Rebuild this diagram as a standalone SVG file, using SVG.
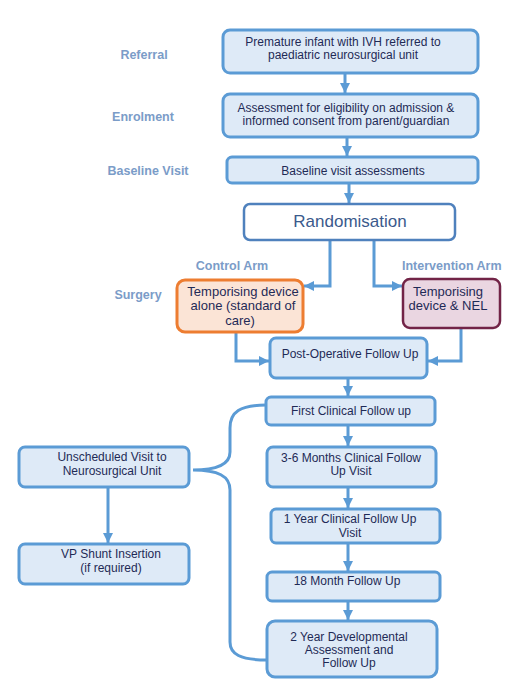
<svg xmlns="http://www.w3.org/2000/svg" width="519" height="693" viewBox="0 0 519 693">
<style>
.box{fill:#deeaf7;stroke:#5b9bd5;stroke-width:3}
.t{font-family:"Liberation Sans",Arial,sans-serif;font-size:12px;fill:#1f2a56;text-anchor:middle}
.lbl{font-family:"Liberation Sans",Arial,sans-serif;font-size:12.5px;font-weight:bold;fill:#7b9cc8;text-anchor:middle}
.c{fill:none;stroke:#5b9bd5;stroke-width:3}
</style>
<defs>
<marker id="ah" markerUnits="userSpaceOnUse" markerWidth="12" markerHeight="12" viewBox="0 0 12 12" refX="10" refY="6" orient="auto">
<path d="M0,1 L10,6 L0,11 Z" fill="#5b9bd5"/>
</marker>
</defs>
<rect width="519" height="693" fill="#ffffff"/>
<g id="labels">
<text class="lbl" x="144" y="59">Referral</text>
<text class="lbl" x="143" y="121">Enrolment</text>
<text class="lbl" x="148" y="175">Baseline Visit</text>
<text class="lbl" x="138" y="299">Surgery</text>
<text class="lbl" x="232" y="270">Control Arm</text>
<text class="lbl" x="402" y="270" style="text-anchor:start">Intervention Arm</text>
</g>
<g id="connectors">
<line class="c" x1="345" y1="73" x2="345" y2="93" marker-end="url(#ah)"/>
<line class="c" x1="347" y1="137" x2="347" y2="156" marker-end="url(#ah)"/>
<line class="c" x1="349" y1="183" x2="349" y2="203" marker-end="url(#ah)"/>
<polyline class="c" points="330,240 330,286 304,286" marker-end="url(#ah)"/>
<polyline class="c" points="374,240 374,286 402,286" marker-end="url(#ah)"/>
<polyline class="c" points="236,332 236,361 269,361" marker-end="url(#ah)"/>
<polyline class="c" points="461,328 461,361 428,361" marker-end="url(#ah)"/>
<line class="c" x1="348" y1="378" x2="348" y2="396" marker-end="url(#ah)"/>
<line class="c" x1="348" y1="425" x2="348" y2="446" marker-end="url(#ah)"/>
<line class="c" x1="348" y1="487" x2="348" y2="508" marker-end="url(#ah)"/>
<line class="c" x1="348" y1="543" x2="348" y2="571" marker-end="url(#ah)"/>
<line class="c" x1="348" y1="601" x2="348" y2="620" marker-end="url(#ah)"/>
<line class="c" x1="108" y1="487" x2="108" y2="543" marker-end="url(#ah)"/>
<path class="c" d="M266,405 C240,405 230,412 230,428 L230,452 C230,464 218,470 193,470 C218,470 230,476 230,490 L230,642 C230,654 240,660 267,660"/>
</g>
<g id="referral"><rect class="box" x="223" y="30" width="255" height="43" rx="7"/>
<text class="t" x="343" y="46">Premature infant with IVH referred to</text>
<text class="t" x="343" y="59">paediatric neurosurgical unit</text></g>
<g id="enrolment"><rect class="box" x="223" y="94" width="255" height="43" rx="7"/>
<text class="t" x="346" y="112">Assessment for eligibility on admission &amp;</text>
<text class="t" x="346" y="125">informed consent from parent/guardian</text></g>
<g id="baseline"><rect class="box" x="227" y="157" width="251" height="26" rx="5"/>
<text class="t" x="353" y="175">Baseline visit assessments</text></g>
<g id="randomisation"><rect x="244" y="204" width="211" height="36" rx="6" fill="#ffffff" stroke="#4f81bd" stroke-width="2.5"/>
<text class="t" x="350" y="227" style="font-size:17px;fill:#3b5a8c">Randomisation</text></g>
<g id="control"><rect x="177" y="280" width="126" height="52" rx="8" fill="#fbe4d6" stroke="#ed7d31" stroke-width="3"/>
<text class="t" x="243" y="296" style="font-size:13px">Temporising device</text>
<text class="t" x="243" y="310" style="font-size:13px">alone (standard of</text>
<text class="t" x="240" y="325" style="font-size:13px">care)</text></g>
<g id="intervention"><rect x="403" y="279" width="97" height="49" rx="7" fill="#ead6e1" stroke="#722447" stroke-width="2.5"/>
<text class="t" x="448" y="296" style="font-size:13px">Temporising</text>
<text class="t" x="448" y="310" style="font-size:13px">device &amp; NEL</text></g>
<g id="postop"><rect class="box" x="270" y="338" width="157" height="40" rx="6"/>
<text class="t" x="350" y="358">Post-Operative Follow Up</text></g>
<g id="first"><rect class="box" x="266" y="397" width="169" height="28" rx="5"/>
<text class="t" x="351" y="415">First Clinical Follow up</text></g>
<g id="m36"><rect class="box" x="267" y="447" width="169" height="40" rx="6"/>
<text class="t" x="351" y="462">3-6 Months Clinical Follow</text>
<text class="t" x="351" y="475">Up Visit</text></g>
<g id="y1"><rect class="box" x="271" y="509" width="169" height="34" rx="5"/>
<text class="t" x="350" y="523">1 Year Clinical Follow Up</text>
<text class="t" x="350" y="537">Visit</text></g>
<g id="m18"><rect class="box" x="267" y="572" width="173" height="29" rx="5"/>
<text class="t" x="347" y="585">18 Month Follow Up</text></g>
<g id="y2"><rect class="box" x="267" y="621" width="170" height="56" rx="8"/>
<text class="t" x="349" y="641">2 Year Developmental</text>
<text class="t" x="349" y="654">Assessment and</text>
<text class="t" x="349" y="667">Follow Up</text></g>
<g id="unscheduled"><rect class="box" x="19" y="447" width="170" height="40" rx="6"/>
<text class="t" x="112" y="461">Unscheduled Visit to</text>
<text class="t" x="112" y="475">Neurosurgical Unit</text></g>
<g id="vpshunt"><rect class="box" x="19" y="544" width="170" height="40" rx="6"/>
<text class="t" x="111" y="558">VP Shunt Insertion</text>
<text class="t" x="111" y="572">(if required)</text></g>
</svg>
